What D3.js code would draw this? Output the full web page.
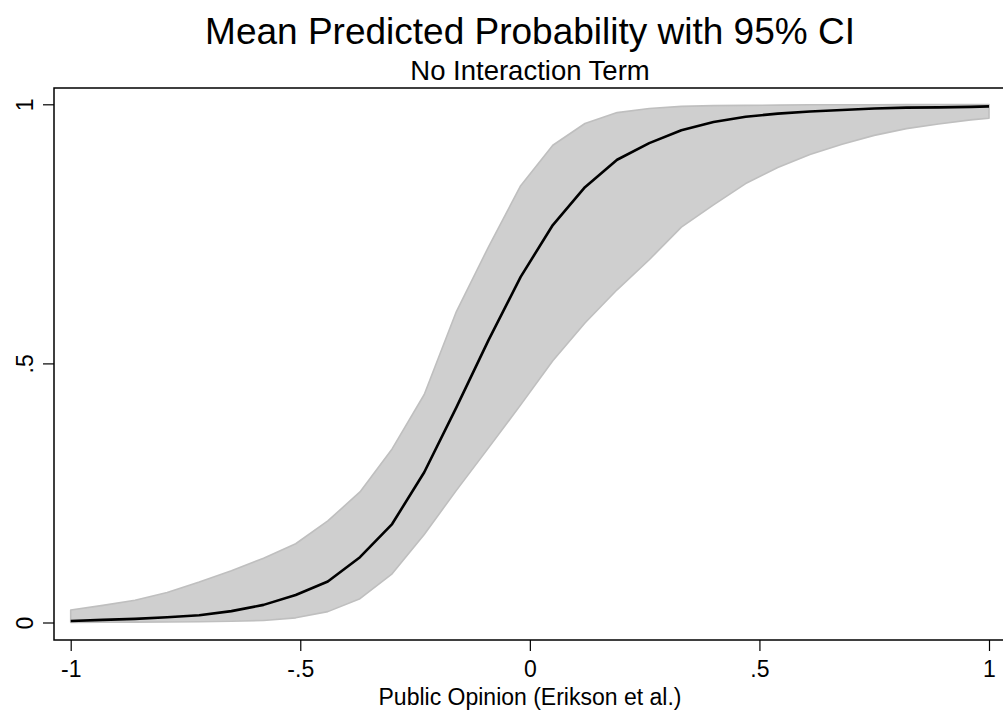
<!DOCTYPE html>
<html>
<head>
<meta charset="utf-8">
<script src="https://cdn.jsdelivr.net/npm/d3@7"></script>
<style>
  body { margin: 0; background: #fff; }
  text { font-family: "Liberation Sans", Arial, Helvetica, sans-serif; fill: #000; }
</style>
</head>
<body>
<svg id="chart" width="1003" height="717"></svg>
<script>
// public opinion grid (-1 by .07, plus the end point 1)
const opinion = [-1, -0.93, -0.86, -0.79, -0.72, -0.65, -0.58, -0.51, -0.44, -0.37,
    -0.30, -0.23, -0.16, -0.09, -0.02, 0.05, 0.12, 0.19, 0.26, 0.33,
    0.40, 0.47, 0.54, 0.61, 0.68, 0.75, 0.82, 0.89, 0.96, 1];

const meanProb = [0.003, 0.005, 0.007, 0.010, 0.014, 0.022, 0.034, 0.053, 0.079, 0.126,
    0.19, 0.29, 0.415, 0.545, 0.667, 0.767, 0.84, 0.893, 0.925, 0.950,
    0.966, 0.976, 0.982, 0.986, 0.989, 0.992, 0.9935, 0.994, 0.995, 0.996];

const upperCI = [0.024, 0.033, 0.043, 0.058, 0.078, 0.100, 0.124, 0.152, 0.196, 0.252,
    0.335, 0.44, 0.60, 0.725, 0.843, 0.921, 0.963, 0.984, 0.992, 0.996,
    0.9975, 0.998, 0.9985, 0.999, 0.999, 0.999, 0.9993, 0.9995, 0.9995, 0.9996];

const lowerCI = [0.0003, 0.0005, 0.0008, 0.001, 0.0015, 0.0025, 0.004, 0.009, 0.021, 0.046,
    0.094, 0.17, 0.255, 0.337, 0.42, 0.505, 0.578, 0.642, 0.70, 0.763,
    0.806, 0.847, 0.878, 0.903, 0.923, 0.94, 0.953, 0.962, 0.970, 0.973];

const xTicks = [-1, -0.5, 0, 0.5, 1];
const xTickLabels = ["-1", "-.5", "0", ".5", "1"];
const yTicks = [0, 0.5, 1];
const yTickLabels = ["0", ".5", "1"];

const title = "Mean Predicted Probability with 95% CI";
const subtitle = "No Interaction Term";
const xTitle = "Public Opinion (Erikson et al.)";

const svg = d3.select("#chart"),
    width = +svg.attr("width"),
    height = +svg.attr("height"),
    frame = { left: 54, top: 88, right: 1010, bottom: 640 };

const data = opinion.map((x, i) => ({ x: x, mean: meanProb[i], lo: lowerCI[i], hi: upperCI[i] }));

const x = d3.scaleLinear().domain([-1, 1]).range([70.7, 989]);
const y = d3.scaleLinear().domain([0, 1]).range([622.5, 104.3]);

// plot region outline
svg.append("rect")
    .attr("x", frame.left)
    .attr("y", frame.top)
    .attr("width", frame.right - frame.left)
    .attr("height", frame.bottom - frame.top)
    .attr("fill", "none")
    .attr("stroke", "#000")
    .attr("stroke-width", 1.5);

// CI band
const area = d3.area()
    .x(d => x(d.x))
    .y0(d => y(d.lo))
    .y1(d => y(d.hi));

svg.append("path")
    .datum(data)
    .attr("d", area)
    .attr("fill", "#cfcfcf")
    .attr("stroke", "#bfbfbf")
    .attr("stroke-width", 1.6)
    .attr("stroke-linejoin", "round");

// mean line
const line = d3.line()
    .x(d => x(d.x))
    .y(d => y(d.mean));

svg.append("path")
    .datum(data)
    .attr("d", line)
    .attr("fill", "none")
    .attr("stroke", "#000")
    .attr("stroke-width", 2.6)
    .attr("stroke-linejoin", "round");

// x axis
const xAxis = d3.axisBottom(x)
    .tickValues(xTicks)
    .tickFormat((d, i) => xTickLabels[i])
    .tickSize(11)
    .tickPadding(10);

const gx = svg.append("g")
    .attr("transform", `translate(0,${frame.bottom})`)
    .call(xAxis);
gx.select(".domain").remove();
gx.selectAll(".tick line").attr("stroke", "#000").attr("stroke-width", 1.2);
gx.selectAll(".tick text")
    .attr("font-size", 23)
    .attr("font-family", "Liberation Sans, Arial, sans-serif");

// y axis
const yAxis = d3.axisLeft(y)
    .tickValues(yTicks)
    .tickFormat((d, i) => yTickLabels[i])
    .tickSize(11)
    .tickPadding(0);

const gy = svg.append("g")
    .attr("transform", `translate(${frame.left},0)`)
    .call(yAxis);
gy.select(".domain").remove();
gy.selectAll(".tick line").attr("stroke", "#000").attr("stroke-width", 1.2);
gy.selectAll(".tick text")
    .attr("font-size", 23)
    .attr("font-family", "Liberation Sans, Arial, sans-serif")
    .attr("x", null)
    .attr("dy", null)
    .attr("text-anchor", "middle")
    .attr("transform", "translate(-21,0) rotate(-90)");

// titles
svg.append("text")
    .attr("x", 530)
    .attr("y", 44)
    .attr("text-anchor", "middle")
    .attr("font-size", 37)
    .text(title);

svg.append("text")
    .attr("x", 530)
    .attr("y", 80)
    .attr("text-anchor", "middle")
    .attr("font-size", 27.5)
    .text(subtitle);

svg.append("text")
    .attr("x", 530)
    .attr("y", 705)
    .attr("text-anchor", "middle")
    .attr("font-size", 23)
    .text(xTitle);
</script>
</body>
</html>
